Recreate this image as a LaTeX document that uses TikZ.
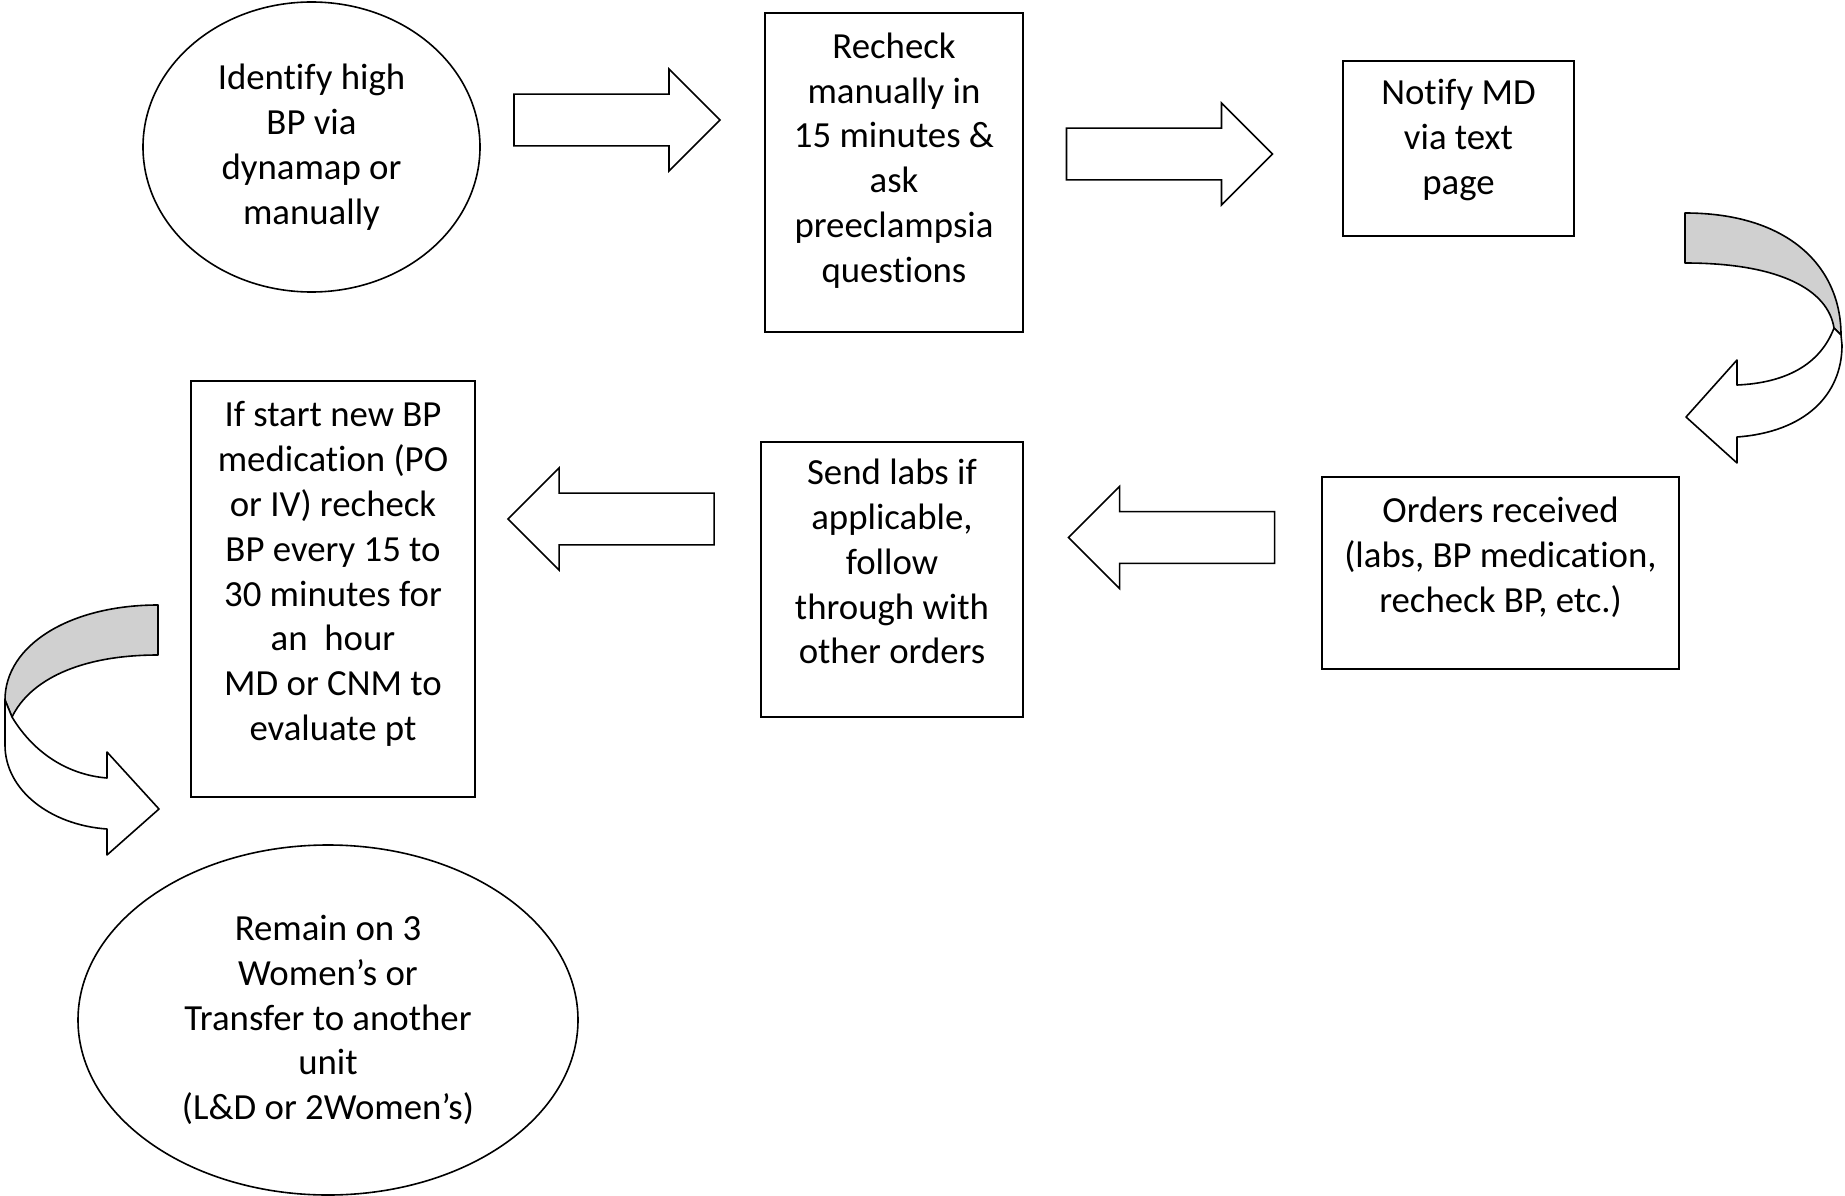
\documentclass[tikz,border=0pt]{standalone}
\usepackage{fontspec}
\setmainfont{Carlito}[Ligatures=NoCommon]
\usetikzlibrary{shapes.geometric,shapes.arrows}
\definecolor{bandgray}{RGB}{208,208,208}

\begin{document}
\begin{tikzpicture}[x=1pt,y=-1pt,font=\fontsize{36.8pt}{44.8pt}\selectfont,
  box/.style={draw,line width=2pt,align=center,inner sep=0pt,text depth=36pt},
  oval/.style={ellipse,draw,line width=1.6pt,align=center,inner sep=2pt},
  blk/.style={single arrow,draw,line width=1.6pt,inner sep=0pt,
              text height=25pt,text depth=25pt,
              minimum height=206pt,minimum width=102pt,
              single arrow head extend=25pt,single arrow tip angle=90},
  band/.style={draw,line width=1.6pt,line join=round}]
\useasboundingbox (0,0) rectangle (1845,1196);

% steps
\node[oval,minimum width=337pt,minimum height=290pt] (identify) at (311.5,147)
  {Identify high\\BP via\\dynamap or\\manually};
\node[box,text depth=30pt,minimum width=258pt,minimum height=319pt] (recheck) at (894,172.5)
  {Recheck\\manually in\\15 minutes \&\\ask\\preeclampsia\\questions};
\node[box,text depth=23pt,minimum width=231pt,minimum height=175pt] (notify) at (1458.5,148.5)
  {Notify MD\\via text\\page};
\node[box,minimum width=357pt,minimum height=192pt] (orders) at (1500.5,573)
  {Orders received\\(labs, BP medication,\\recheck BP, etc.)};
\node[box,minimum width=262pt,minimum height=275pt] (sendlabs) at (892,579.5)
  {Send labs if\\applicable,\\follow\\through with\\other orders};
\node[box,minimum width=284pt,minimum height=416pt] (bpmed) at (333,589)
  {If start new BP\\medication (PO\\or IV) recheck\\BP every 15 to\\30 minutes for\\an\ \ hour\\MD or CNM to\\evaluate pt};
\node[oval,minimum width=500pt,minimum height=350pt] (remain) at (328,1020)
  {Remain on 3\\Women’s or\\Transfer to another\\unit\\(L\&D or 2Women’s)};

% block arrows
\node[blk] (ar1) at (604,120) {};
\node[blk] (ar2) at (1156.5,154) {};
\node[blk,shape border rotate=180] (ar3) at (1184.5,537.5) {};
\node[blk,shape border rotate=180] (ar4) at (624,519) {};

% curved arrow notify -> orders
\draw[band,fill=bandgray] (1685,213) .. controls (1790,213) and (1841,268) .. (1841,335)
  -- (1834,328) .. controls (1828,290) and (1780,263) .. (1685,263) -- cycle;
\draw[band,fill=white] (1834,328) .. controls (1820,365) and (1785,383) .. (1737,385)
  -- (1737,360) -- (1686,417) -- (1737,463) -- (1737,437)
  .. controls (1805,432) and (1842,395) .. (1842,345) -- (1841,335) -- cycle;

% curved arrow bpmed -> remain
\draw[band,fill=bandgray] (158,605) .. controls (70,605) and (5,645) .. (5,700)
  -- (12,717) .. controls (30,680) and (80,655) .. (158,655) -- cycle;
\draw[band,fill=white] (12,717) .. controls (35,755) and (70,775) .. (107,778)
  -- (107,752) -- (159,809) -- (107,855) -- (107,829)
  .. controls (50,825) and (5,790) .. (5,745) -- (5,700) -- cycle;
\end{tikzpicture}
\end{document}
